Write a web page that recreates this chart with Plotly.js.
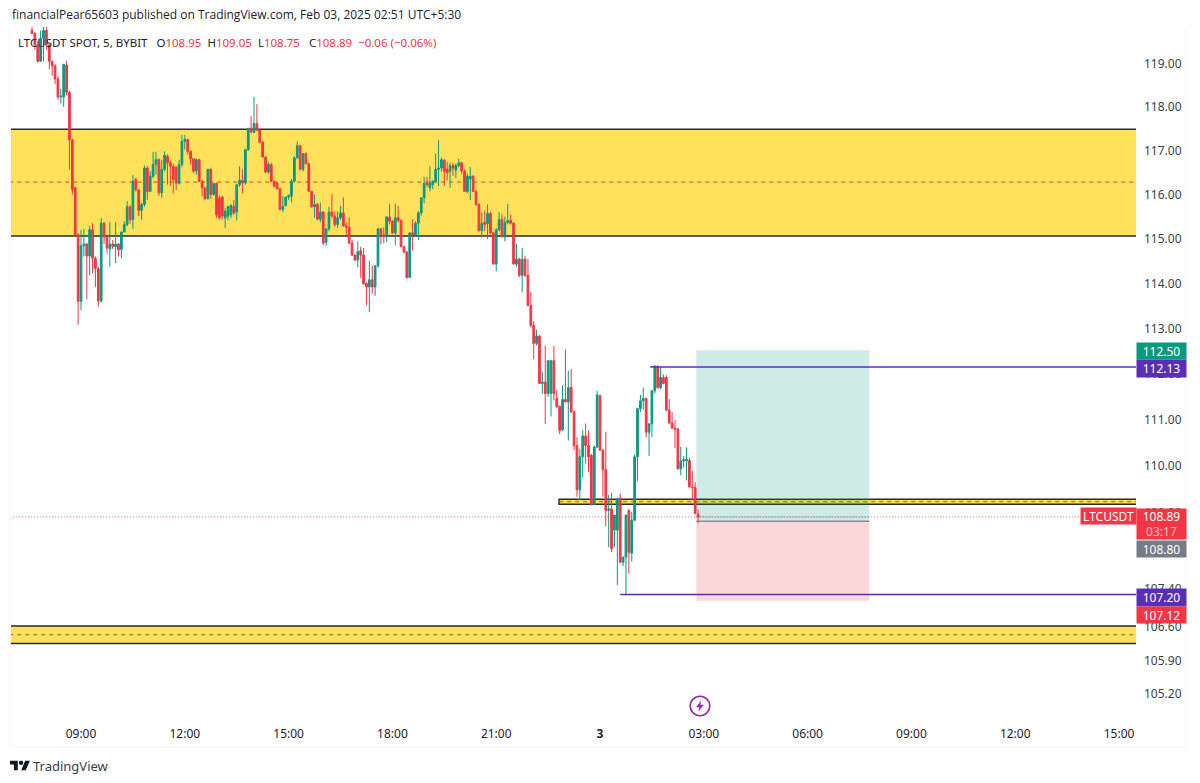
<!DOCTYPE html>
<html>
<head>
<meta charset="utf-8">
<script src="https://cdn.plot.ly/plotly-3.0.1.min.js"></script>
<style>html,body{margin:0;padding:0;background:#fff;overflow:hidden}#chart{width:1200px;height:783px}</style>
</head>
<body>
<div id="chart"></div>
<script>
// 5-minute LTCUSDT candles, first bar Feb 2 07:35
const opens = [119.76,119.69,119.42,119.04,119.57,119.76,119.42,119.04,118.93,118.63,118.21,118.21,118.95,118.32,117.22,116.13,115.07,
113.58,114.82,114.86,114.59,115.18,114.54,114.31,113.59,115.33,115.02,114.75,114.86,114.80,114.86,114.74,115.13,115.30,115.70,115.41,116.32,
116.08,115.62,115.75,116.58,116.05,116.39,116.66,116.77,116.02,116.55,116.85,116.70,116.62,116.60,116.23,116.66,117.19,117.23,116.96,116.79,
116.51,116.77,116.28,116.13,115.88,116.55,115.98,116.23,115.90,115.92,115.45,115.49,115.52,115.71,115.58,116.20,116.30,116.24,117.00,117.49,
117.40,117.60,117.45,117.17,116.83,116.49,116.66,116.28,116.24,116.11,115.64,115.73,115.92,115.94,116.28,116.81,117.09,116.55,116.91,116.68,
116.05,115.70,115.75,115.42,115.58,114.90,115.20,115.58,115.49,115.30,115.45,115.56,115.27,115.24,114.88,114.61,114.50,114.71,114.61,113.98,
113.90,114.06,113.90,114.37,115.20,115.07,115.07,115.47,115.37,115.11,115.45,115.39,114.80,114.68,114.11,115.11,115.07,115.33,115.56,115.90,
116.24,116.13,116.20,116.28,116.55,116.58,116.76,116.55,116.51,116.64,116.53,116.64,116.70,116.51,116.05,116.33,116.39,116.05,115.75,115.16,
115.35,115.32,115.55,115.11,114.41,115.18,115.41,115.02,115.35,115.39,115.33,114.41,114.52,114.16,114.52,114.16,113.49,113.05,112.65,112.81,
111.77,111.80,111.55,111.55,112.27,111.44,111.27,110.76,111.42,111.37,111.68,111.15,110.42,109.47,110.18,110.63,110.42,110.21,109.16,110.39,
111.50,110.32,109.90,109.03,109.06,108.61,108.61,109.28,107.93,108.04,109.03,108.12,108.82,110.18,111.22,111.39,111.44,110.71,110.89,111.61,
112.13,111.68,111.90,111.90,111.19,110.91,110.80,110.78,109.92,110.09,110.09,110.10,109.53,109.52,108.95];
const highs = [119.90,119.72,119.50,119.76,119.90,119.90,119.45,119.05,118.97,118.70,118.40,118.97,119.05,118.35,117.25,116.15,115.10,
115.18,115.20,114.88,115.26,115.33,114.58,114.35,115.45,115.35,115.05,115.35,114.95,115.35,114.88,115.14,115.37,115.83,115.73,116.42,116.36,
116.10,115.79,116.64,116.62,116.51,116.95,116.95,116.80,116.77,116.96,116.89,116.75,116.68,116.62,116.77,117.34,117.34,117.25,116.98,116.80,
116.80,116.79,116.32,116.15,116.55,116.57,116.23,116.25,115.95,115.95,115.67,115.70,115.76,115.86,116.20,116.62,116.55,117.00,117.49,117.77,
118.21,118.05,117.47,117.20,116.85,116.72,116.70,116.30,116.26,116.13,115.94,115.92,115.98,116.33,116.85,117.19,117.11,116.92,116.93,116.70,
116.06,115.98,115.79,115.79,115.60,115.22,115.70,115.98,115.60,115.60,115.72,115.91,115.35,115.46,114.96,114.63,114.92,114.80,114.77,114.00,
114.48,114.38,114.39,115.22,115.23,115.24,115.48,115.77,115.40,115.77,115.72,115.42,114.83,114.70,115.12,115.42,115.37,115.60,115.92,116.38,
116.38,116.62,116.30,116.91,117.22,116.82,116.78,116.72,116.70,116.70,116.68,116.79,116.72,116.55,116.45,116.60,116.42,116.08,115.78,115.58,
115.62,115.75,115.58,115.13,115.22,115.58,115.53,115.48,115.77,115.52,115.35,114.87,114.55,114.77,114.60,114.52,113.79,113.14,112.95,112.83,
112.03,112.60,112.27,112.27,112.59,111.62,111.29,111.73,112.52,112.05,112.09,111.18,110.60,110.35,110.75,110.90,110.75,110.24,110.42,111.61,
111.53,110.35,110.72,109.36,109.40,108.93,109.28,109.39,108.04,108.93,109.06,109.00,110.23,111.24,111.52,111.68,111.46,110.90,111.61,112.17,
112.17,112.13,111.97,111.95,111.43,111.14,110.97,110.80,110.39,110.20,110.38,110.16,109.88,109.63,109.05];
const lows = [119.69,119.31,119.01,119.04,119.04,119.31,118.85,118.70,118.51,118.15,118.06,117.98,118.25,116.55,115.98,115.07,113.06,
113.38,114.58,113.63,114.16,114.20,113.90,113.46,113.55,114.86,114.65,114.35,114.75,114.43,114.58,114.54,115.13,115.26,115.32,115.20,116.05,
115.49,115.41,115.70,115.86,116.03,116.35,116.43,115.95,115.90,116.50,116.20,116.17,116.00,116.08,116.20,116.60,117.00,116.89,116.66,116.47,
116.43,116.26,115.94,115.86,115.88,115.88,115.95,115.45,115.41,115.41,115.22,115.40,115.45,115.52,115.39,116.15,116.00,116.20,116.97,117.38,
117.38,117.42,117.14,116.83,116.47,116.45,116.26,116.13,116.09,115.64,115.58,115.70,115.85,115.80,116.25,116.80,116.53,116.50,116.66,116.03,
115.68,115.45,115.40,115.35,114.84,114.82,115.15,115.45,115.25,115.22,115.40,115.25,115.05,114.86,114.60,114.48,114.34,114.10,113.95,113.49,
113.34,113.75,113.70,114.33,114.85,114.88,114.90,115.30,115.08,114.83,115.35,114.78,114.66,114.09,114.10,114.72,115.05,114.95,115.50,115.78,
116.15,116.05,116.10,116.25,116.17,116.50,116.17,116.30,116.13,116.40,116.35,116.60,116.45,116.03,116.00,115.85,116.03,115.73,115.14,115.01,
115.15,114.97,115.08,114.40,114.25,115.15,115.00,114.92,115.30,115.30,114.41,114.35,114.12,113.78,114.12,113.47,113.00,112.30,112.60,111.77,
111.55,110.89,111.48,111.05,111.40,111.24,110.67,110.74,111.35,110.53,111.13,110.32,109.32,109.25,109.73,110.03,109.85,109.14,109.14,110.37,
110.32,109.32,108.69,108.25,108.14,108.25,107.45,107.93,107.85,107.25,107.69,107.94,108.80,109.66,111.15,111.20,110.60,110.20,110.60,111.55,
111.66,111.65,111.75,111.17,110.89,110.78,110.36,109.90,109.78,109.95,109.67,109.52,109.25,108.96,108.75];
const closes = [119.69,119.42,119.04,119.57,119.76,119.42,119.04,118.93,118.63,118.21,118.23,118.97,118.32,117.22,116.09,115.07,113.58,
114.82,114.86,114.59,115.18,114.54,114.31,113.59,115.33,115.02,114.77,114.86,114.80,114.86,114.73,115.13,115.30,115.70,115.41,116.28,116.08,
115.62,115.75,116.58,116.05,116.39,116.66,116.77,116.02,116.55,116.87,116.70,116.62,116.32,116.24,116.66,117.19,117.23,116.96,116.79,116.51,
116.77,116.28,116.13,115.88,116.55,115.98,116.23,115.52,115.45,115.49,115.60,115.71,115.73,115.56,116.20,116.30,116.24,117.00,117.49,117.40,
117.60,117.45,117.17,116.83,116.49,116.66,116.28,116.17,116.11,115.64,115.71,115.92,115.95,116.28,116.81,117.09,116.55,116.91,116.68,116.05,
115.70,115.75,115.42,115.58,114.88,115.20,115.58,115.49,115.30,115.45,115.56,115.27,115.24,114.88,114.61,114.50,114.69,114.61,113.97,113.90,
114.06,113.90,114.37,115.20,115.07,115.03,115.47,115.37,115.11,115.45,115.39,114.80,114.68,114.11,115.11,115.07,115.33,115.56,115.90,116.23,
116.20,116.24,116.28,116.55,116.58,116.77,116.51,116.47,116.64,116.58,116.64,116.70,116.51,116.05,116.39,116.39,116.05,115.75,115.16,115.32,
115.30,115.55,115.11,114.41,115.18,115.41,115.03,115.35,115.39,115.33,114.41,114.52,114.16,114.52,114.16,113.49,113.05,112.65,112.81,111.77,
111.80,111.55,112.27,112.27,111.55,111.26,110.75,111.42,111.37,111.68,111.15,110.42,109.47,110.18,110.63,110.42,110.18,109.16,110.39,111.52,
110.32,109.90,109.03,109.06,108.22,108.93,109.28,107.93,108.04,108.93,108.14,108.82,110.18,111.22,111.39,111.44,110.71,110.89,111.61,112.15,
111.68,111.90,111.77,111.19,110.91,110.80,110.78,109.92,110.09,110.11,110.12,109.53,109.52,108.96,108.89];

const tickTimes = ['2025-02-02 09:00','2025-02-02 12:00','2025-02-02 15:00','2025-02-02 18:00','2025-02-02 21:00','2025-02-03 00:00','2025-02-03 03:00','2025-02-03 06:00','2025-02-03 09:00','2025-02-03 12:00','2025-02-03 15:00'];
const tickLabels = ['09:00','12:00','15:00','18:00','21:00','<b>3</b>','03:00','06:00','09:00','12:00','15:00'];
const priceTicks = [119,118,117,116,115,114,113,112,111,110,109,107.4,106.6,105.9,105.2];

const L=11,R=1136,T=27,B=721;
const px=x=>(x-L)/(R-L), py=y=>(B-y)/(B-T);
const times = opens.map((_,i)=>new Date(Date.UTC(2025,1,2,7,35)+i*300000).toISOString().slice(0,16).replace('T',' '));
const far0='2025-02-02 06:00', far1='2025-02-03 17:00';

const RED='#F23645',GRN='#089981',PUR='#5A2FB4',INK='#2a2a30',DASH='#b4552a';
const rect=(x0,x1,y0,y1,fill,line,layer)=>({type:'rect',xref:'x',yref:'y',x0,x1,y0,y1,fillcolor:fill,line:line||{width:0},layer:layer||'below'});
const hline=(x0,x1,y,color,width,dash,layer)=>({type:'line',xref:'x',yref:'y',x0,x1,y0:y,y1:y,line:{color,width,dash:dash||'solid'},layer:layer||'above'});
const faint=(x0,y0,x1,y1)=>({type:'line',xref:'paper',yref:'paper',x0:px(x0),y0:py(y0),x1:px(x1),y1:py(y1),line:{color:'#f3f4f6',width:1},layer:'below'});

const posStart='2025-02-03 02:47', posEnd='2025-02-03 07:47';
const shapes=[
 faint(11,747,1186,747),faint(1186,27,1186,747),faint(10,27,10,747),
 rect(far0,far1,115.04,117.47,'#FFE15C',{color:INK,width:1.5}),
 hline(far0,far1,116.26,DASH,1,'4px,4px','below'),
 rect('2025-02-02 22:49',far1,109.16,109.27,'#FFE15C',{color:INK,width:1.5}),
 hline('2025-02-02 22:49',far1,109.215,DASH,1,'4px,4px','below'),
 rect(far0,far1,106.23,106.59,'#FFE15C',{color:INK,width:1.5}),
 hline(far0,far1,106.41,DASH,1,'4px,4px','below'),
 rect(posStart,posEnd,108.80,112.50,'rgba(8,153,129,0.2)',null,'below'),
 rect(posStart,posEnd,107.12,108.80,'rgba(242,54,69,0.2)',null,'below'),
 hline(posStart,posEnd,108.80,'#8a8f98',1.5,'solid','below'),
 hline(far0,far1,108.89,RED,0.8,'1px,2px','below'),
 hline(posStart,posEnd,108.89,'#6f747c',1,'1px,2px','below'),
 hline('2025-02-03 01:27',far1,112.13,PUR,1.5),
 hline('2025-02-03 00:35',far1,107.25,PUR,1.5)
];

const label=(text,color,x,y,w,h)=>({xref:'paper',yref:'paper',x:px(x),y:py(y),xanchor:'center',yanchor:'middle',text,showarrow:false,
 bgcolor:color,width:w,height:h,borderpad:0,align:'center',valign:'middle',font:{family:'Noto Sans, sans-serif',size:12,color:'#fff'}});
const note=(text,x,y,size,color,fam)=>({xref:'paper',yref:'paper',x:px(x),y:py(y),xanchor:'left',yanchor:'middle',text,showarrow:false,
 font:{family:fam||'Noto Sans, sans-serif',size,color},bgcolor:'rgba(0,0,0,0)'});
const r=t=>'<span style="color:#F23645">'+t+'</span>';
const annotations=[
 note('financialPear65603 published on TradingView.com, Feb 03, 2025 02:51 UTC+5:30',10,15,12,'#1e222d','Open Sans, sans-serif'),
 note('LTCUSDT SPOT, 5, BYBIT   O'+r('108.95')+'  H'+r('109.05')+'  L'+r('108.75')+'   C'+r('108.89')+'  '+r('−0.06 (−0.06%)'),16,43,11.5,'#1e222d'),
 note('TradingView',31,766,13,'#3a3e48'),
 label('112.50',GRN,1161.5,351,49,16),
 label('112.13',PUR,1161.5,368,49,17),
 label('108.89<br><span style="color:#fbc4c9">03:17</span>',RED,1161.5,524,49,30),
 label('108.80','#787B86',1161.5,549,49,16),
 label('107.20',PUR,1161.5,597,49,17),
 label('107.12',RED,1161.5,615,49,16),
 label('LTCUSDT',RED,1108.5,516,55,16)
];

const svg=s=>'data:image/svg+xml;base64,'+btoa(s);
const logo=svg('<svg xmlns="http://www.w3.org/2000/svg" viewBox="0 0 36 18"><path fill="#131722" d="M14 18H7V7H0V0h14v18ZM28 18h-8l7.5-18H36L28 18Z"/><circle cx="20" cy="4" r="4" fill="#131722"/></svg>');
const bolt=svg('<svg xmlns="http://www.w3.org/2000/svg" viewBox="0 0 22 22"><circle cx="11" cy="11" r="9.8" fill="#fff" stroke="#9C27B0" stroke-width="1.6"/><path fill="#9C27B0" d="M12.3 5.2 7 12.2h3.3l-.9 4.6 5.4-7h-3.4z"/></svg>');

const trace={type:'candlestick',x:times,open:opens,high:highs,low:lows,close:closes,
 increasing:{line:{color:GRN,width:1},fillcolor:GRN},decreasing:{line:{color:RED,width:1},fillcolor:RED},
 whiskerwidth:0,hoverinfo:'skip',showlegend:false};

const layout={width:1200,height:783,margin:{l:L,r:1200-R,t:T,b:783-B,pad:0},paper_bgcolor:'#fff',plot_bgcolor:'#fff',showlegend:false,boxgap:0.15,
 font:{family:'Noto Sans, sans-serif',size:12,color:'#131722'},
 xaxis:{type:'date',range:['2025-02-02 06:58:36','2025-02-03 15:29:24'],rangeslider:{visible:false},tickmode:'array',tickvals:tickTimes,ticktext:tickLabels,
  showgrid:false,zeroline:false,ticks:'',showline:false,ticklabelstandoff:4,tickfont:{size:12,color:'#1e222d'}},
 yaxis:{type:'log',side:'right',range:[Math.log10(104.63),Math.log10(119.84)],tickmode:'array',tickvals:priceTicks,ticktext:priceTicks.map(v=>v.toFixed(2)),
  showgrid:false,zeroline:false,ticks:'',showline:false,ticklabelstandoff:7,ticklabelshift:1,tickfont:{size:12,color:'#3b3f49'}},
 shapes,annotations,
 images:[
  {source:logo,xref:'paper',yref:'paper',x:px(10),y:py(765.5),sizex:20/(R-L),sizey:10/(B-T),xanchor:'left',yanchor:'middle',sizing:'contain',layer:'above'},
  {source:bolt,xref:'paper',yref:'paper',x:px(700),y:py(706),sizex:22/(R-L),sizey:22/(B-T),xanchor:'center',yanchor:'middle',sizing:'contain',layer:'above'}
 ]};
Plotly.newPlot('chart',[trace],layout,{displayModeBar:false,staticPlot:true});
</script>
</body>
</html>
